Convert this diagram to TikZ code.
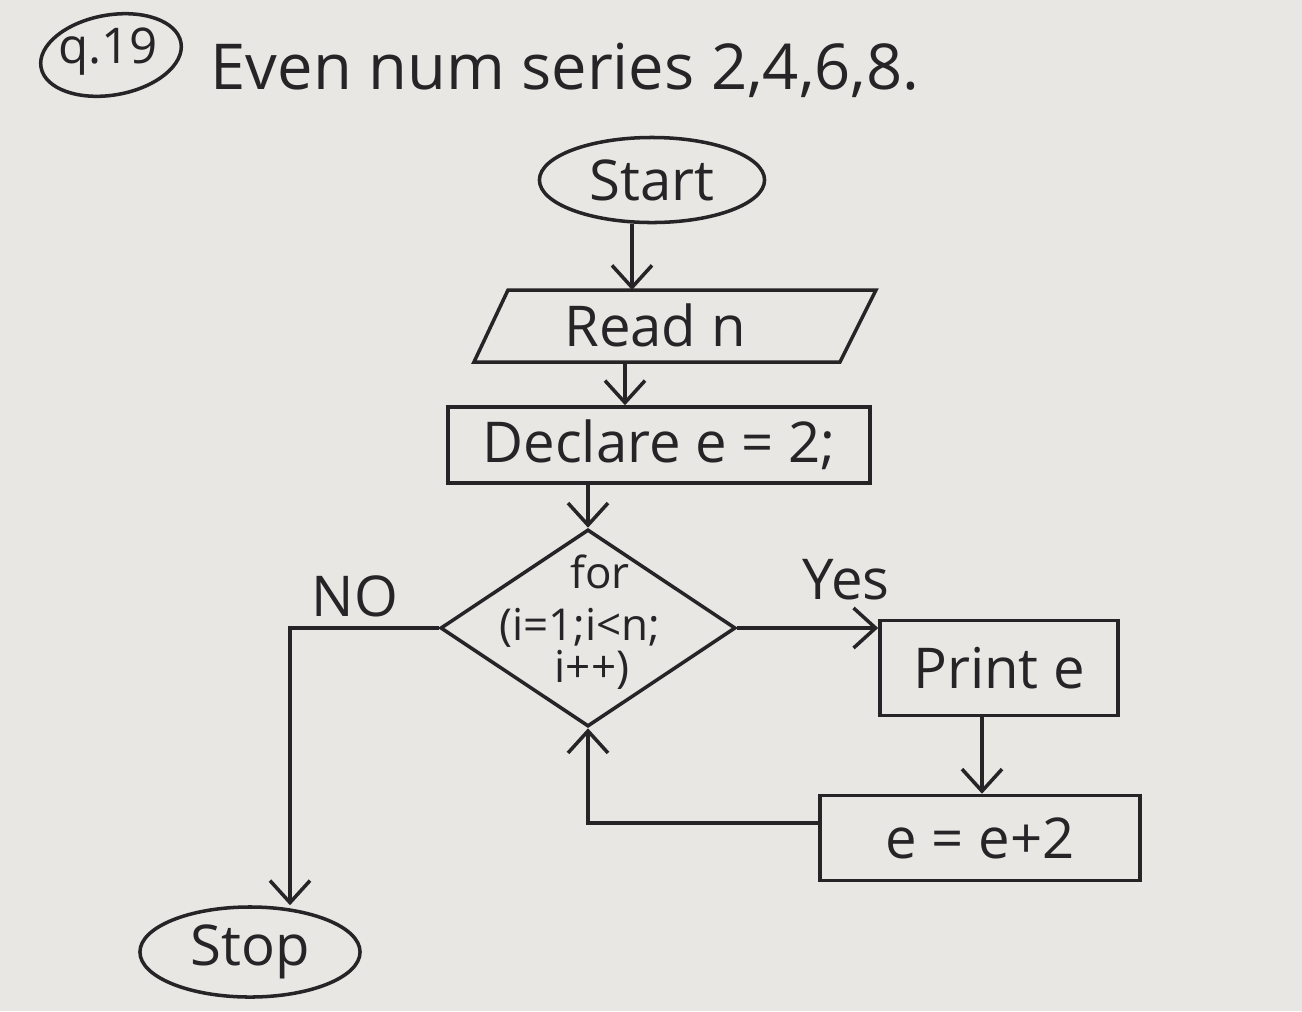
\documentclass[tikz,border=0pt]{standalone}
\usepackage{fontspec}
\setmainfont{Open Sans}
\usetikzlibrary{shapes.geometric,arrows.meta}
\definecolor{paper}{RGB}{233,231,227}
\definecolor{ink}{RGB}{38,36,38}
\tikzset{
  ln/.style={draw=ink,line width=1pt},
  arr/.style={ln,-{Straight Barb[length=2.2mm,width=4mm,line width=1pt]}},
  txt/.style={text=ink,font=\fontsize{16}{19}\selectfont,inner sep=0pt},
  small/.style={txt,font=\fontsize{12.5}{15}\selectfont},
  term/.style={ln,ellipse,txt},
  boxx/.style={ln,rectangle,txt},
}
\begin{document}
\begin{tikzpicture}[x=0.01cm,y=-0.01cm]
\fill[paper] (0,0) rectangle (1302,1011);
\useasboundingbox (0,0) rectangle (1302,1011);
% title
\node[ln,ellipse,minimum width=1.42cm,minimum height=0.8cm,rotate=10] (qn) at (111,55) {};
\node[small,font=\fontsize{14}{16}\selectfont] (qtxt) at (108,52) {q.19};
\node[txt,anchor=west,font=\fontsize{18}{21}\selectfont] (title) at (210,70) {Even num series 2,4,6,8.};
% nodes
\node[term,minimum width=2.25cm,minimum height=0.85cm] (start) at (652,180) {Start};
\coordinate (rtl) at (508,290);
\coordinate (rtr) at (876,290);
\coordinate (rbr) at (840,362);
\coordinate (rbl) at (474,362);
\draw[ln] (rtl) -- (rtr) -- (rbr) -- (rbl) -- cycle;
\node[txt] (read) at (655,325) {Read n};
\coordinate (readtop) at (632,290);
\coordinate (readbot) at (625,362);
\node[boxx,minimum width=4.22cm,minimum height=0.76cm] (decl) at (659,445) {Declare e = 2;};
\node[ln,diamond,minimum width=2.95cm,minimum height=1.97cm,inner sep=0pt] (dia) at (588,628) {};
\node[small] (for) at (600,572) {for};
\node[small] (cond) at (580,628) {(i=1;i<n;};
\node[small] (inc) at (592,670) {i++)};
\node[boxx,minimum width=2.38cm,minimum height=0.95cm] (print) at (999,668) {Print e};
\node[boxx,minimum width=3.2cm,minimum height=0.85cm] (upd) at (980,838) {e = e+2};
\node[term,minimum width=2.2cm,minimum height=0.9cm] (stop) at (250,952) {Stop};
% labels
\node[txt] (no) at (355,596) {NO};
\node[txt] (yes) at (846,580) {Yes};
% connectors
\draw[arr] (start.south -| readtop) -- (readtop);
\draw[arr] (readbot) -- (decl.north -| readbot);
\draw[arr] (decl.south -| dia.north) -- (dia.north);
\draw[arr] (dia.east) -- (dia.east -| print.west);
\draw[arr] (print.south -| 982,0) -- (upd.north -| 982,0);
\draw[arr] ([yshift=0.15cm]upd.west) -- ([yshift=0.15cm]upd.west -| dia.south) -- (dia.south);
\draw[arr] (dia.west) -- (dia.west -| 290,0) -- (stop.north -| 290,0);
\end{tikzpicture}
\end{document}
